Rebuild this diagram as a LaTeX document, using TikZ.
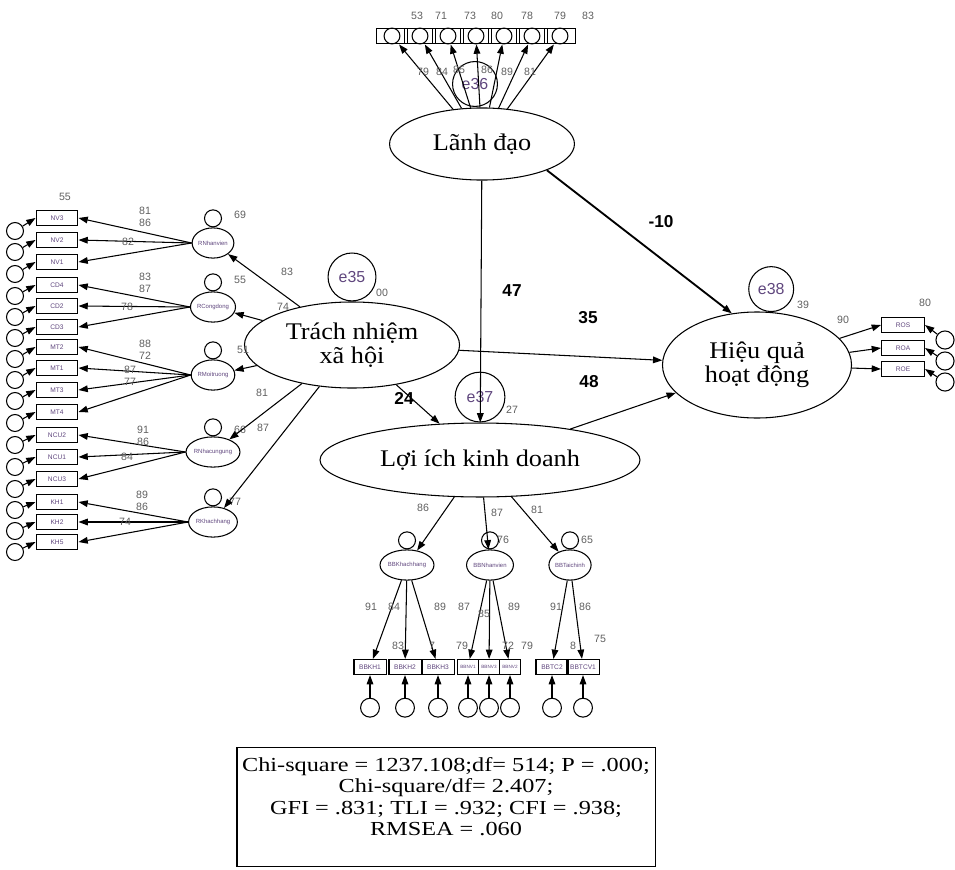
\documentclass[tikz,border=0pt]{standalone}
\usepackage{fontspec}
\setmainfont{Liberation Serif}
\setsansfont{Liberation Sans}
\newfontfamily\latfont[FakeStretch=1.1]{Liberation Serif}
\newfontfamily\statfont[FakeStretch=1.22]{Liberation Serif}
\usetikzlibrary{positioning, arrows.meta, shapes.geometric}
\definecolor{errpurple}{RGB}{95,70,125}
\definecolor{coefgray}{RGB}{95,95,95}

\begin{document}
\begin{tikzpicture}[
        x=0.0265cm, y=-0.0265cm,
        latent/.style={ellipse, draw, thick, inner sep=0pt, align=center, font=\latfont\fontsize{18}{18}\selectfont},
        sublat/.style={ellipse, draw, thick, minimum width=1.08cm, minimum height=0.8cm, inner sep=0pt, font=\sffamily\fontsize{4.5}{5}\selectfont, text=errpurple},
        err/.style={circle, draw, thick, inner sep=0pt, font=\sffamily\fontsize{12}{12}\selectfont, text=errpurple},
        smerr/.style={circle, draw, thick, minimum size=0.45cm, inner sep=0pt},
        ind/.style={rectangle, draw, thick, minimum width=1.11cm, minimum height=0.42cm, inner sep=0pt, font=\sffamily\fontsize{5}{5}\selectfont, text=errpurple},
        coef/.style={inner sep=0pt, font=\sffamily\fontsize{8}{8}\selectfont, text=coefgray},
        est/.style={inner sep=0pt, font=\sffamily\bfseries\fontsize{13}{13}\selectfont},
        arr/.style={-{Triangle[length=7pt, width=5pt]}, thick},
        statbox/.style={rectangle, draw, thick, minimum width=11.08cm, minimum height=3.13cm, align=center, font=\statfont\fontsize{15}{16.2}\selectfont},
    ]
    \useasboundingbox (0,0) rectangle (955,869);

    \node[latent, minimum width=4.90cm, minimum height=1.91cm] (LD) at (482,144) {Lãnh đạo};
    \node[latent, minimum width=5.70cm, minimum height=2.28cm] (TN) at (352,345) {Trách nhiệm\\xã hội};
    \node[latent, minimum width=8.48cm, minimum height=1.96cm] (LI) at (480,460) {Lợi ích kinh doanh};
    \node[latent, minimum width=5.01cm, minimum height=2.81cm] (HQ) at (757,365) {Hiệu quả\\hoạt động};

    \node[err, minimum size=1.19cm] (E36) at (475,84) {\raisebox{-7pt}{e36}};
    \node[err, minimum size=1.27cm, above=0pt of TN] (E35) {e35};
    \node[err, minimum size=1.32cm, above=0pt of LI] (E37) {e37};
    \node[err, minimum size=1.19cm, above=0pt of HQ.75] (E38) {e38};
    \node[coef] at (382,293) {00};
    \node[coef] at (512,410) {27};
    \node[coef] at (803,305) {39};

    \node[ind, minimum width=0.8cm] (LD1) at (392,36) {};
    \node[ind, minimum width=0.8cm] (LD2) at (420,36) {};
    \node[ind, minimum width=0.8cm] (LD3) at (448,36) {};
    \node[ind, minimum width=0.8cm] (LD4) at (476,36) {};
    \node[ind, minimum width=0.8cm] (LD5) at (504,36) {};
    \node[ind, minimum width=0.8cm] (LD6) at (532,36) {};
    \node[ind, minimum width=0.8cm] (LD7) at (560,36) {};
    \node[smerr, minimum size=0.42cm] (ELD1) at (LD1) {};
    \node[smerr, minimum size=0.42cm] (ELD2) at (LD2) {};
    \node[smerr, minimum size=0.42cm] (ELD3) at (LD3) {};
    \node[smerr, minimum size=0.42cm] (ELD4) at (LD4) {};
    \node[smerr, minimum size=0.42cm] (ELD5) at (LD5) {};
    \node[smerr, minimum size=0.42cm] (ELD6) at (LD6) {};
    \node[smerr, minimum size=0.42cm] (ELD7) at (LD7) {};
    \draw[arr] (LD) -- (LD1);
    \draw[arr] (LD) -- (LD2);
    \draw[arr] (LD) -- (LD3);
    \draw[arr] (LD) -- (LD4);
    \draw[arr] (LD) -- (LD5);
    \draw[arr] (LD) -- (LD6);
    \draw[arr] (LD) -- (LD7);
    \node[coef] at (417,16) {53};
    \node[coef] at (441,16) {71};
    \node[coef] at (470,16) {73};
    \node[coef] at (497,16) {80};
    \node[coef] at (527,16) {78};
    \node[coef] at (560,16) {79};
    \node[coef] at (588,16) {83};
    \node[coef] at (423,72) {79};
    \node[coef] at (442,72) {84};
    \node[coef] at (459,70) {85};
    \node[coef] at (487,70) {86};
    \node[coef] at (507,72) {89};
    \node[coef] at (530,72) {81};

    \node[sublat] (RNV) at (213,243) {RNhanvien};
    \node[sublat] (RCD) at (213,307) {RCongdong};
    \node[sublat] (RMT) at (213,375) {RMoitruong};
    \node[sublat] (RNCU) at (213,452) {RNhacungung};
    \node[sublat] (RKH) at (213,522) {RKhachhang};
    \node[smerr, above=0pt of RNV] (ERNV) {};
    \node[smerr, above=0pt of RCD] (ERCD) {};
    \node[smerr, above=0pt of RMT] (ERMT) {};
    \node[smerr, above=0pt of RNCU] (ERNCU) {};
    \node[smerr, above=0pt of RKH] (ERKH) {};
    \node[coef] at (240,215) {69};
    \node[coef] at (240,280) {55};
    \node[coef] at (243,350) {51};
    \node[coef] at (240,430) {66};
    \node[coef] at (235,502) {77};
    \draw[arr] (TN) -- (RNV);
    \draw[arr] (TN) -- (RCD);
    \draw[arr] (TN) -- (RMT);
    \draw[arr] (TN) -- (RNCU);
    \draw[arr] (TN) -- (RKH);
    \node[coef] at (287,272) {83};
    \node[coef] at (283,307) {74};
    \node[coef] at (262,393) {81};
    \node[coef] at (263,428) {87};

    \node[ind] (NV3) at (57,218) {NV3};
    \node[ind] (NV2) at (57,240) {NV2};
    \node[ind] (NV1) at (57,262) {NV1};
    \node[ind] (CD4) at (57,285) {CD4};
    \node[ind] (CD2) at (57,306) {CD2};
    \node[ind] (CD3) at (57,327) {CD3};
    \node[ind] (MT2) at (57,347) {MT2};
    \node[ind] (MT1) at (57,368) {MT1};
    \node[ind] (MT3) at (57,390) {MT3};
    \node[ind] (MT4) at (57,412) {MT4};
    \node[ind] (NCU2) at (57,435) {NCU2};
    \node[ind] (NCU1) at (57,457) {NCU1};
    \node[ind] (NCU3) at (57,479) {NCU3};
    \node[ind] (KH1) at (57,502) {KH1};
    \node[ind] (KH2) at (57,522) {KH2};
    \node[ind] (KH5) at (57,542) {KH5};
    \node[smerr] (ENV3) at (15,231) {};
    \node[smerr] (ENV2) at (15,252) {};
    \node[smerr] (ENV1) at (15,274) {};
    \node[smerr] (ECD4) at (15,296) {};
    \node[smerr] (ECD2) at (15,317) {};
    \node[smerr] (ECD3) at (15,338) {};
    \node[smerr] (EMT2) at (15,359) {};
    \node[smerr] (EMT1) at (15,380) {};
    \node[smerr] (EMT3) at (15,401) {};
    \node[smerr] (EMT4) at (15,423) {};
    \node[smerr] (ENCU2) at (15,445) {};
    \node[smerr] (ENCU1) at (15,467) {};
    \node[smerr] (ENCU3) at (15,489) {};
    \node[smerr] (EKH1) at (15,510) {};
    \node[smerr] (EKH2) at (15,531) {};
    \node[smerr] (EKH5) at (15,552) {};
    \draw[arr] (ENV3) -- (NV3.west);
    \draw[arr] (ENV2) -- (NV2.west);
    \draw[arr] (ENV1) -- (NV1.west);
    \draw[arr] (ECD4) -- (CD4.west);
    \draw[arr] (ECD2) -- (CD2.west);
    \draw[arr] (ECD3) -- (CD3.west);
    \draw[arr] (EMT2) -- (MT2.west);
    \draw[arr] (EMT1) -- (MT1.west);
    \draw[arr] (EMT3) -- (MT3.west);
    \draw[arr] (EMT4) -- (MT4.west);
    \draw[arr] (ENCU2) -- (NCU2.west);
    \draw[arr] (ENCU1) -- (NCU1.west);
    \draw[arr] (ENCU3) -- (NCU3.west);
    \draw[arr] (EKH1) -- (KH1.west);
    \draw[arr] (EKH2) -- (KH2.west);
    \draw[arr] (EKH5) -- (KH5.west);
    \draw[arr] (RNV.west) -- (NV3.east);
    \draw[arr] (RNV.west) -- (NV2.east);
    \draw[arr] (RNV.west) -- (NV1.east);
    \draw[arr] (RCD.west) -- (CD4.east);
    \draw[arr] (RCD.west) -- (CD2.east);
    \draw[arr] (RCD.west) -- (CD3.east);
    \draw[arr] (RMT.west) -- (MT2.east);
    \draw[arr] (RMT.west) -- (MT1.east);
    \draw[arr] (RMT.west) -- (MT3.east);
    \draw[arr] (RMT.west) -- (MT4.east);
    \draw[arr] (RNCU.west) -- (NCU2.east);
    \draw[arr] (RNCU.west) -- (NCU1.east);
    \draw[arr] (RNCU.west) -- (NCU3.east);
    \draw[arr] (RKH.west) -- (KH1.east);
    \draw[arr] (RKH.west) -- (KH2.east);
    \draw[arr] (RKH.west) -- (KH5.east);
    \node[coef] at (65,197) {55};
    \node[coef] at (145,211) {81};
    \node[coef] at (145,223) {86};
    \node[coef] at (128,242) {82};
    \node[coef] at (145,277) {83};
    \node[coef] at (145,289) {87};
    \node[coef] at (127,307) {78};
    \node[coef] at (145,344) {88};
    \node[coef] at (145,356) {72};
    \node[coef] at (130,370) {87};
    \node[coef] at (130,382) {77};
    \node[coef] at (143,430) {91};
    \node[coef] at (143,442) {86};
    \node[coef] at (127,457) {84};
    \node[coef] at (142,495) {89};
    \node[coef] at (142,507) {86};
    \node[coef] at (125,522) {74};

    \node[sublat] (BKH) at (407,565) {BBKhachhang};
    \node[sublat] (BNV) at (490,565) {BBNhanvien};
    \node[sublat] (BTC) at (570,565) {BBTaichinh};
    \node[smerr, above=0pt of BKH] (EBKH) {};
    \node[smerr, above=0pt of BNV] (EBNV) {};
    \node[smerr, above=0pt of BTC] (EBTC) {};
    \node[coef] at (503,540) {76};
    \node[coef] at (587,540) {65};
    \draw[arr] (LI) -- (BKH);
    \draw[arr] (LI) -- (BNV);
    \draw[arr] (LI) -- (BTC);
    \node[coef] at (423,508) {86};
    \node[coef] at (497,513) {87};
    \node[coef] at (537,510) {81};

    \node[ind, minimum width=0.85cm, minimum height=0.4cm] (BBKH1) at (370,667) {BBKH1};
    \node[ind, minimum width=0.85cm, minimum height=0.4cm] (BBKH2) at (405,667) {BBKH2};
    \node[ind, minimum width=0.85cm, minimum height=0.4cm] (BBKH3) at (438,667) {BBKH3};
    \node[ind, minimum width=0.57cm, minimum height=0.4cm, font=\sffamily\fontsize{3.5}{4}\selectfont] (BBNV1) at (468,667) {BBNV1};
    \node[ind, minimum width=0.57cm, minimum height=0.4cm, font=\sffamily\fontsize{3.5}{4}\selectfont] (BBNV3) at (489,667) {BBNV3};
    \node[ind, minimum width=0.57cm, minimum height=0.4cm, font=\sffamily\fontsize{3.5}{4}\selectfont] (BBNV2) at (510,667) {BBNV2};
    \node[ind, minimum width=0.85cm, minimum height=0.4cm] (BBTC2) at (552,667) {BBTC2};
    \node[ind, minimum width=0.85cm, minimum height=0.4cm] (BBTCV1) at (583,667) {BBTCV1};
    \node[smerr, minimum size=0.5cm, below=0.6cm of BBKH1] (EBBKH1) {};
    \node[smerr, minimum size=0.5cm, below=0.6cm of BBKH2] (EBBKH2) {};
    \node[smerr, minimum size=0.5cm, below=0.6cm of BBKH3] (EBBKH3) {};
    \node[smerr, minimum size=0.5cm, below=0.6cm of BBNV1] (EBBNV1) {};
    \node[smerr, minimum size=0.5cm, below=0.6cm of BBNV3] (EBBNV3) {};
    \node[smerr, minimum size=0.5cm, below=0.6cm of BBNV2] (EBBNV2) {};
    \node[smerr, minimum size=0.5cm, below=0.6cm of BBTC2] (EBBTC2) {};
    \node[smerr, minimum size=0.5cm, below=0.6cm of BBTCV1] (EBBTCV1) {};
    \draw[arr] (BKH) -- (BBKH1);
    \draw[arr] (BKH) -- (BBKH2);
    \draw[arr] (BKH) -- (BBKH3);
    \draw[arr] (BNV) -- (BBNV1);
    \draw[arr] (BNV) -- (BBNV3);
    \draw[arr] (BNV) -- (BBNV2);
    \draw[arr] (BTC) -- (BBTC2);
    \draw[arr] (BTC) -- (BBTCV1);
    \draw[arr] (EBBKH1) -- (BBKH1);
    \draw[arr] (EBBKH2) -- (BBKH2);
    \draw[arr] (EBBKH3) -- (BBKH3);
    \draw[arr] (EBBNV1) -- (BBNV1);
    \draw[arr] (EBBNV3) -- (BBNV3);
    \draw[arr] (EBBNV2) -- (BBNV2);
    \draw[arr] (EBBTC2) -- (BBTC2);
    \draw[arr] (EBBTCV1) -- (BBTCV1);
    \node[coef] at (371,607) {91};
    \node[coef] at (394,607) {84};
    \node[coef] at (440,607) {89};
    \node[coef] at (464,607) {87};
    \node[coef] at (484,614) {85};
    \node[coef] at (514,607) {89};
    \node[coef] at (556,607) {91};
    \node[coef] at (585,607) {86};
    \node[coef] at (398,646) {83};
    \node[coef] at (432,646) {7};
    \node[coef] at (462,646) {79};
    \node[coef] at (508,646) {72};
    \node[coef] at (527,646) {79};
    \node[coef] at (573,646) {8};
    \node[coef] at (600,639) {75};

    \node[ind, minimum width=1.14cm, minimum height=0.4cm] (ROS) at (903,325) {ROS};
    \node[ind, minimum width=1.14cm, minimum height=0.4cm] (ROA) at (903,348) {ROA};
    \node[ind, minimum width=1.14cm, minimum height=0.4cm] (ROE) at (903,369) {ROE};
    \node[smerr, minimum size=0.48cm] (EROS) at (945,340) {};
    \node[smerr, minimum size=0.48cm] (EROA) at (945,361) {};
    \node[smerr, minimum size=0.48cm] (EROE) at (945,382) {};
    \draw[arr] (HQ) -- (ROS.west);
    \draw[arr] (HQ) -- (ROA.west);
    \draw[arr] (HQ) -- (ROE.west);
    \draw[arr] (EROS) -- (ROS.east);
    \draw[arr] (EROA) -- (ROA.east);
    \draw[arr] (EROE) -- (ROE.east);
    \node[coef] at (843,320) {90};
    \node[coef] at (925,303) {80};

    \draw[arr, line width=1.4pt] (LD.-22) -- (HQ.116);
    \draw[arr] (LD) -- (LI);
    \draw[arr] (TN) -- (HQ);
    \draw[arr] (TN) -- (LI);
    \draw[arr] (LI) -- (HQ);
    \node[est] at (661,222) {-10};
    \node[est] at (512,291) {47};
    \node[est] at (588,318) {35};
    \node[est] at (589,382) {48};
    \node[est] at (404,398) {24};

    \node[statbox] (FIT) at (446,807) {Chi-square = 1237.108;df= 514; P = .000;\\Chi-square/df= 2.407;\\GFI = .831; TLI = .932; CFI = .938;\\RMSEA = .060\\\mbox{}};
\end{tikzpicture}
\end{document}
